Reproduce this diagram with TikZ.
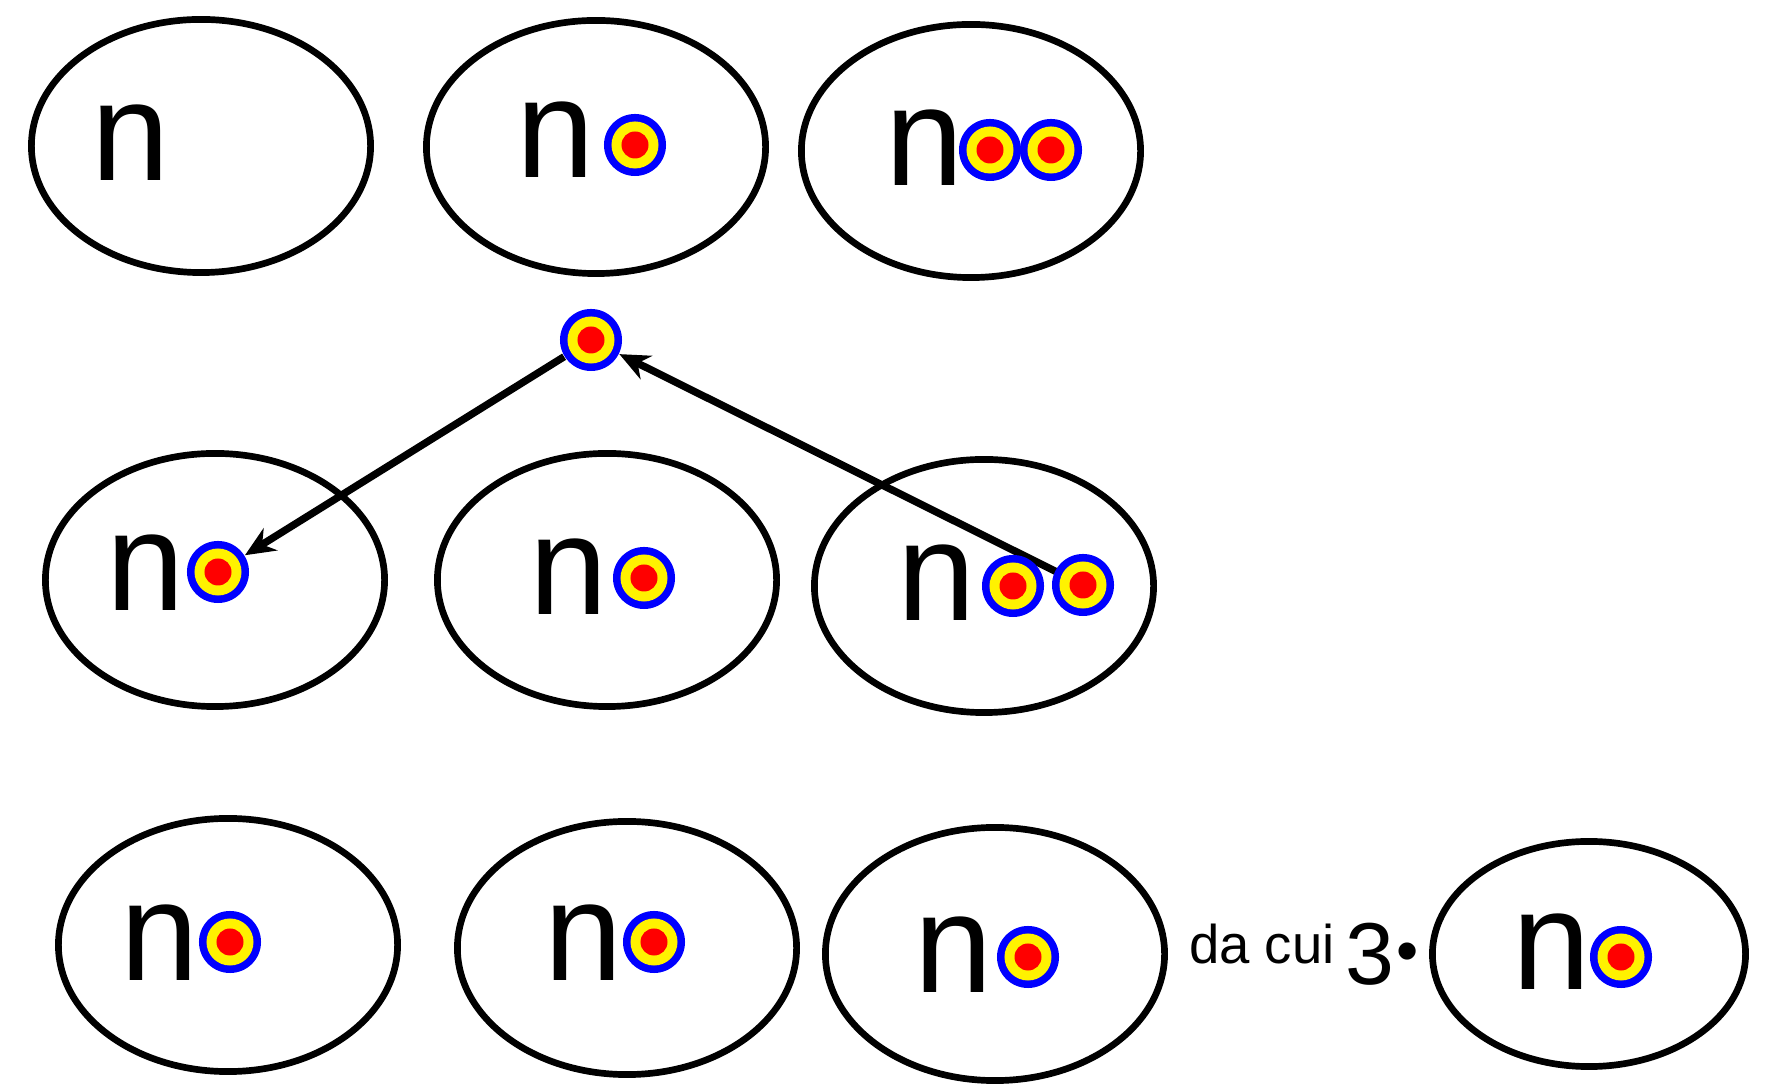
\documentclass[tikz,border=0pt]{standalone}
\usepackage{fontspec}
\setmainfont{Liberation Sans}
\usetikzlibrary{shapes.geometric,arrows.meta,backgrounds}

\tikzset{
  cell/.style={draw, ellipse, line width=1.9pt, minimum width=3.39cm,
    minimum height=2.53cm, inner sep=0pt},
  letter/.style={inner sep=0pt, font=\fontsize{40}{40}\selectfont},
  ion/.style={circle, fill=blue, minimum size=0.62cm, inner sep=0pt,
    path picture={
      \fill[yellow] (path picture bounding box.center) circle (0.235cm);
      \fill[red] (path picture bounding box.center) circle (0.135cm);}},
  jump/.style={line width=2.1pt, -{Stealth[length=0.3cm,width=0.26cm]}},
}

\begin{document}
\begin{tikzpicture}[x=0.01cm, y=-0.01cm]
  \useasboundingbox (0,0) rectangle (1775,1086);
  % one ion hops from the third cell to the first one
  \node[cell] (e1) at (201,146) {};
  \node[cell] (e2) at (596,147) {};
  \node[cell] (e3) at (971,151) {};
  \node[letter] (n1) at (131,143) {n};
  \node[letter] (n2) at (556,140) {n};
  \node[ion] (d2) at (635,145) {};
  \node[letter] (n3) at (925,148) {n};
  \node[ion] (d3a) at (990,150) {};
  \node[ion] (d3b) at (1051,150) {};

  \node[ion] (hop) at (591,340) {};

  \node[cell] (e4) at (215,580) {};
  \node[cell] (e5) at (607,580) {};
  \node[cell] (e6) at (984,586) {};
  \node[letter] (n4) at (146,573) {n};
  \node[ion] (d4) at (218,572) {};
  \node[letter] (n5) at (569,577) {n};
  \node[ion] (d5) at (644,578) {};
  \node[letter] (n6) at (937,583) {n};
  \node[ion] (d6a) at (1013,586) {};
  \node[ion] (d6b) at (1083,585) {};

  \node[cell] (e7) at (228,945) {};
  \node[cell] (e8) at (627,948) {};
  \node[cell] (e9) at (995,954) {};
  \node[letter] (n7) at (160,943) {n};
  \node[ion] (d7) at (230,942) {};
  \node[letter] (n8) at (584,943) {n};
  \node[ion] (d8) at (654,942) {};
  \node[letter] (n9) at (954,955) {n};
  \node[ion] (d9) at (1028,957) {};

  \node[inner sep=0pt, font=\fontsize{15.5}{16}\selectfont] (dacui) at (1262,944) {da cui};
  \node[inner sep=0pt, font=\fontsize{25}{25}\selectfont] (three) at (1370,954) {3};
  \node[inner sep=0pt, font=\fontsize{18}{18}\selectfont] (times) at (1408,958) {•};
  \node[cell, minimum width=3.13cm, minimum height=2.25cm] (e10) at (1589,954) {};
  \node[letter] (n10) at (1552,952) {n};
  \node[ion] (d10) at (1621,957) {};

  \begin{scope}[on background layer]
    \draw[jump] (hop) -- (d4);
    \draw[jump] (d6b.center) -- (hop);
  \end{scope}
\end{tikzpicture}
\end{document}
